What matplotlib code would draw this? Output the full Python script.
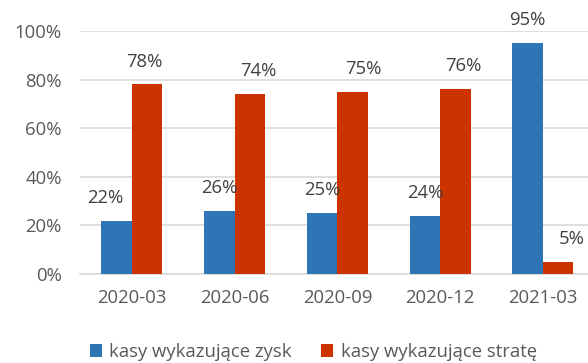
import matplotlib.pyplot as plt
import numpy as np
from matplotlib.ticker import FuncFormatter

plt.rcParams['font.family'] = ['Open Sans', 'DejaVu Sans']

quarters = ['2020-03', '2020-06', '2020-09', '2020-12', '2021-03']
profit = [22, 26, 25, 24, 95]
loss = [78, 74, 75, 76, 5]
series_names = ['kasy wykazujące zysk', 'kasy wykazujące stratę']

# horizontal nudges (px) for labels that would collide with neighbours
profit_dx = [-11, 0, 0, 0, 0]
loss_dx = [-3, 8, 11, 8, 14]

BLUE = '#2E75B6'
RED = '#CC3300'
GRID = '#D9D9D9'
TEXT = '#595959'
FS = 13.3


def main():
    fig = plt.figure(figsize=(5.88, 3.63), dpi=100)
    ax = fig.add_axes([80 / 588, 89 / 363, 508 / 588, 243 / 363])

    x = np.arange(len(quarters))
    w = 0.297
    b1 = ax.bar(x - w / 2, profit, w, color=BLUE, label=series_names[0], zorder=3)
    b2 = ax.bar(x + w / 2, loss, w, color=RED, label=series_names[1], zorder=3)

    for bars, vals, dxs in ((b1, profit, profit_dx), (b2, loss, loss_dx)):
        for bar, v, dx in zip(bars, vals, dxs):
            ax.annotate(f'{v}%', (bar.get_x() + bar.get_width() / 2, v),
                        xytext=(dx * 0.72, 10), textcoords='offset points',
                        ha='center', va='bottom', fontsize=FS,
                        color='#404040', clip_on=False)

    ax.set_ylim(0, 100)
    ax.set_xlim(-0.505, 4.44)
    ax.set_yticks(range(0, 101, 20))
    ax.yaxis.set_major_formatter(FuncFormatter(lambda v, pos: f'{int(v)}%'))
    ax.set_xticks(x)
    ax.set_xticklabels(quarters)
    ax.tick_params(length=0, labelsize=FS, labelcolor=TEXT)
    ax.tick_params(axis='y', pad=13)
    ax.tick_params(axis='x', pad=11)
    ax.grid(axis='y', color=GRID, linewidth=1.2, zorder=0)
    for s in ('top', 'right', 'left'):
        ax.spines[s].set_visible(False)
    ax.spines['bottom'].set_color(GRID)
    ax.spines['bottom'].set_linewidth(1.2)

    fig.legend(loc='center', bbox_to_anchor=(0.533, 0.03), ncol=2, frameon=False,
               fontsize=FS, labelcolor=TEXT, handlelength=0.65, handleheight=0.65,
               handletextpad=0.4, columnspacing=1.6)

    fig.savefig('out.png', dpi=100)


if __name__ == "__main__":
    main()
